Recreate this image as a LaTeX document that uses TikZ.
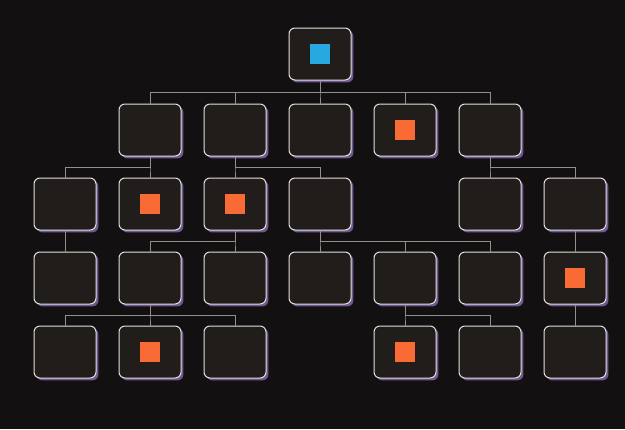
\documentclass[tikz,border=0pt]{standalone}
\usetikzlibrary{shadows}
\definecolor{bgdark}{HTML}{121011}
\definecolor{boxfill}{HTML}{201D1B}
\definecolor{boxline}{HTML}{E4E0DC}
\definecolor{shadowpurple}{HTML}{6F5890}
\definecolor{linkgray}{HTML}{948F8C}
\definecolor{sqorange}{HTML}{F96B35}
\definecolor{sqblue}{HTML}{28A8E0}
\newcommand{\sqfill}[1]{{\color{#1}\rule{15pt}{15pt}}}
\begin{document}
\begin{tikzpicture}[x=0.75pt,y=-0.75pt,
		box/.style={draw=boxline, fill=boxfill, line width=0.75pt, rounded corners=4.5pt,
			minimum width=46.5pt, minimum height=39pt, inner sep=0pt,
			drop shadow={shadow xshift=1.8pt, shadow yshift=-1.8pt, fill=shadowpurple, opacity=1}},
		link/.style={draw=linkgray, line width=0.75pt}]
			\fill[bgdark] (0,0) rectangle (625,429);
			
			\node[box] (TA) at (320,54) {\sqfill{sqblue}};
			
			\node[box] (AA) at (150,130) {};
			\node[box] (AB) at (235,130) {};
			\node[box] (AC) at (320,130) {};
			\node[box] (AD) at (405,130) {\sqfill{sqorange}};
			\node[box] (AE) at (490,130) {};
			
			\node[box] (BA) at (65,204) {};
			\node[box] (BB) at (150,204) {\sqfill{sqorange}};
			\node[box] (BC) at (235,204) {\sqfill{sqorange}};
			\node[box] (BD) at (320,204) {};
			\node[box] (BE) at (490,204) {};
			\node[box] (BF) at (575,204) {};
			
			\node[box] (CA) at (65,278) {};
			\node[box] (CB) at (150,278) {};
			\node[box] (CC) at (235,278) {};
			\node[box] (CD) at (320,278) {};
			\node[box] (CE) at (405,278) {};
			\node[box] (CF) at (490,278) {};
			\node[box] (CG) at (575,278) {\sqfill{sqorange}};
			
			\node[box] (DA) at (65,352) {};
			\node[box] (DB) at (150,352) {\sqfill{sqorange}};
			\node[box] (DC) at (235,352) {};
			\node[box] (DD) at (405,352) {\sqfill{sqorange}};
			\node[box] (DE) at (490,352) {};
			\node[box] (DF) at (575,352) {};
			
			\draw[link] (TA.south) -- ++(0,12) -| (AA.north);
			\draw[link] (TA.south) -- ++(0,12) -| (AB.north);
			\draw[link] (TA.south) -- ++(0,12) -| (AC.north);
			\draw[link] (TA.south) -- ++(0,12) -| (AD.north);
			\draw[link] (TA.south) -- ++(0,12) -| (AE.north);
			
			\draw[link] (AA.south) -- ++(0,11) -| (BA.north);
			\draw[link] (AA.south) -- ++(0,11) -| (BB.north);
			\draw[link] (AB.south) -- ++(0,11) -| (BC.north);
			\draw[link] (AB.south) -- ++(0,11) -| (BD.north);
			\draw[link] (AE.south) -- ++(0,11) -| (BE.north);
			\draw[link] (AE.south) -- ++(0,11) -| (BF.north);
			
			\draw[link] (BA.south) -- (CA.north);
			\draw[link] (BC.south) -- ++(0,11) -| (CB.north);
			\draw[link] (BC.south) -- ++(0,11) -| (CC.north);
			\draw[link] (BD.south) -- ++(0,11) -| (CD.north);
			\draw[link] (BD.south) -- ++(0,11) -| (CE.north);
			\draw[link] (BD.south) -- ++(0,11) -| (CF.north);
			\draw[link] (BF.south) -- (CG.north);
			
			\draw[link] (CB.south) -- ++(0,11) -| (DA.north);
			\draw[link] (CB.south) -- ++(0,11) -| (DB.north);
			\draw[link] (CB.south) -- ++(0,11) -| (DC.north);
			\draw[link] (CE.south) -- ++(0,11) -| (DD.north);
			\draw[link] (CE.south) -- ++(0,11) -| (DE.north);
			\draw[link] (CG.south) -- (DF.north);
		    \end{tikzpicture}
\end{document}
